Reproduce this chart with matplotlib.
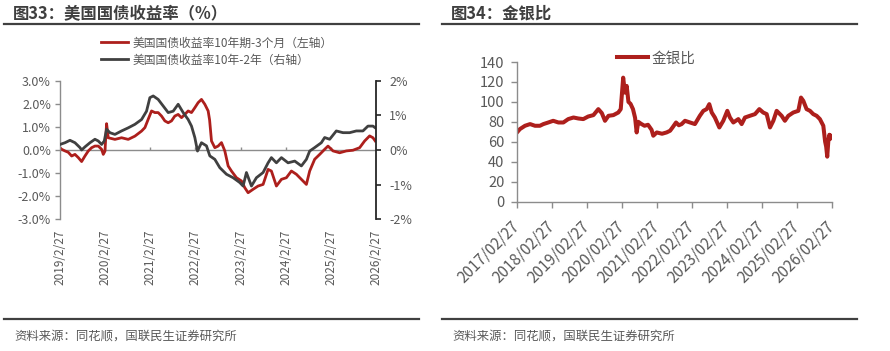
import matplotlib
matplotlib.use('Agg')
import matplotlib.pyplot as plt
from matplotlib.lines import Line2D

plt.rcParams['font.family'] = ['Noto Sans CJK SC', 'DejaVu Sans']

W, H = 890, 351

# ---------------- Left chart data (x in fractional years) ----------------
t_red = [2019.156, 2019.193, 2019.267, 2019.340, 2019.414, 2019.488, 2019.562, 2019.635,
         2019.709, 2019.783, 2019.857, 2019.930, 2020.004, 2020.078, 2020.115, 2020.152,
         2020.188, 2020.225, 2020.373, 2020.520, 2020.668, 2020.815, 2020.963, 2021.037,
         2021.110, 2021.184, 2021.258, 2021.331, 2021.405, 2021.479, 2021.553, 2021.626,
         2021.700, 2021.774, 2021.848, 2021.921, 2021.995, 2022.069, 2022.143, 2022.216,
         2022.290, 2022.364, 2022.438, 2022.470, 2022.512, 2022.586, 2022.659, 2022.733,
         2022.807, 2022.881, 2022.954, 2023.065, 2023.176, 2023.249, 2023.323, 2023.434,
         2023.544, 2023.655, 2023.766, 2023.839, 2023.950, 2024.061, 2024.171, 2024.282,
         2024.392, 2024.503, 2024.614, 2024.687, 2024.798, 2024.909, 2025.019, 2025.093,
         2025.204, 2025.351, 2025.499, 2025.646, 2025.794, 2025.904, 2026.015, 2026.089,
         2026.140]
v_red = [0.10, 0.03, -0.04, -0.10, -0.26, -0.19, -0.33, -0.50,
         -0.26, -0.04, 0.10, 0.17, 0.17, 0.03, -0.19, -0.05,
         1.14, 0.53, 0.46, 0.53, 0.46, 0.60, 0.82, 0.97,
         1.33, 1.69, 1.62, 1.62, 1.47, 1.26, 1.18, 1.26,
         1.47, 1.54, 1.40, 1.54, 1.69, 1.62, 1.83, 2.05,
         2.19, 1.98, 1.69, 1.30, 0.39, 0.10, 0.17, 0.32,
         -0.04, -0.69, -0.91, -1.20, -1.34, -1.63, -1.85, -1.70,
         -1.56, -1.49, -0.84, -0.91, -1.56, -1.27, -1.20, -0.91,
         -1.05, -1.27, -1.49, -0.91, -0.40, -0.19, 0.03, 0.17,
         -0.04, -0.12, -0.04, -0.01, 0.10, 0.39, 0.61, 0.53,
         0.39]

t_gray = [2019.156, 2019.267, 2019.377, 2019.488, 2019.598, 2019.635, 2019.709, 2019.820,
          2019.930, 2020.004, 2020.078, 2020.137, 2020.188, 2020.262, 2020.373, 2020.520,
          2020.668, 2020.815, 2020.963, 2021.073, 2021.147, 2021.221, 2021.331, 2021.442,
          2021.553, 2021.663, 2021.774, 2021.885, 2021.995, 2022.069, 2022.143, 2022.202,
          2022.290, 2022.401, 2022.475, 2022.586, 2022.696, 2022.844, 2022.991, 2023.139,
          2023.212, 2023.286, 2023.397, 2023.507, 2023.655, 2023.766, 2023.839, 2023.950,
          2024.061, 2024.208, 2024.356, 2024.503, 2024.614, 2024.687, 2024.798, 2024.945,
          2025.019, 2025.130, 2025.277, 2025.425, 2025.572, 2025.720, 2025.867, 2025.978,
          2026.089, 2026.140]
v_gray = [0.16, 0.21, 0.28, 0.21, 0.07, 0.00, 0.09, 0.21,
          0.31, 0.26, 0.16, 0.26, 0.60, 0.50, 0.45, 0.55,
          0.64, 0.74, 0.88, 1.12, 1.51, 1.56, 1.46, 1.27,
          1.08, 1.12, 1.32, 1.08, 0.88, 0.69, 0.36, -0.03,
          0.21, 0.12, -0.17, -0.27, -0.51, -0.70, -0.80, -0.94,
          -1.04, -0.65, -1.04, -0.80, -0.65, -0.37, -0.22, -0.37,
          -0.22, -0.37, -0.32, -0.46, -0.27, -0.03, 0.07, 0.21,
          0.36, 0.31, 0.55, 0.50, 0.50, 0.55, 0.55, 0.69,
          0.69, 0.64]

left_years = [2019, 2020, 2021, 2022, 2023, 2024, 2025, 2026]
left_xlabels = ['2019/2/27', '2020/2/27', '2021/2/27', '2022/2/27',
                '2023/2/27', '2024/2/27', '2025/2/27', '2026/2/27']
left_yticks = [-3, -2, -1, 0, 1, 2, 3]
left_ylabels = ['-3.0%', '-2.0%', '-1.0%', '0.0%', '1.0%', '2.0%', '3.0%']
sec_yticks = [-2, -1, 0, 1, 2]
sec_ylabels = ['-2%', '-1%', '0%', '1%', '2%']
name_red = '美国国债收益率10年期-3个月（左轴）'
name_gray = '美国国债收益率10年-2年（右轴）'

# ---------------- Right chart data ----------------
t_gsr = [2017.156, 2017.24, 2017.385, 2017.53, 2017.67, 2017.81, 2017.91, 2018.05,
         2018.19, 2018.34, 2018.48, 2018.62, 2018.77, 2018.91, 2019.05, 2019.19,
         2019.34, 2019.48, 2019.58, 2019.67, 2019.77, 2019.91, 2020.05, 2020.12,
         2020.19, 2020.24, 2020.29, 2020.34, 2020.40, 2020.47, 2020.53, 2020.575,
         2020.62, 2020.70, 2020.80, 2020.90, 2021.00, 2021.05, 2021.15, 2021.30,
         2021.43, 2021.53, 2021.60, 2021.70, 2021.78, 2021.86, 2021.956, 2022.10,
         2022.24, 2022.38, 2022.48, 2022.575, 2022.65, 2022.72, 2022.81, 2022.937,
         2023.05, 2023.165, 2023.24, 2023.337, 2023.48, 2023.575, 2023.67, 2023.81,
         2023.956, 2024.08, 2024.19, 2024.29, 2024.385, 2024.48, 2024.575, 2024.717,
         2024.81, 2024.908, 2025.05, 2025.194, 2025.27, 2025.337, 2025.43, 2025.527,
         2025.62, 2025.717, 2025.81, 2025.908, 2025.96, 2025.99, 2026.02, 2026.05,
         2026.08, 2026.11, 2026.13]
v_gsr = [69.3, 72.7, 76.0, 77.7, 76.0, 76.0, 77.7, 79.3,
         81.0, 79.3, 79.3, 82.7, 84.3, 83.3, 82.7, 85.3,
         86.7, 92.7, 88.7, 81.0, 86.0, 86.7, 89.3, 92.7,
         124.3, 109.3, 116.0, 100.0, 98.0, 92.7, 84.0, 69.3,
         80.0, 78.0, 76.0, 77.0, 72.0, 66.0, 69.3, 68.0,
         69.3, 71.0, 74.3, 79.3, 76.5, 77.7, 81.0, 79.3,
         77.7, 86.0, 91.0, 92.7, 97.7, 89.3, 84.3, 74.3,
         81.0, 91.0, 84.3, 79.3, 82.7, 77.7, 84.3, 86.0,
         87.7, 92.7, 89.3, 87.7, 74.3, 81.0, 91.0, 86.0,
         81.0, 86.0, 89.3, 91.0, 104.3, 101.0, 92.7, 91.0,
         87.7, 86.0, 82.7, 76.0, 60.0, 55.0, 45.0, 60.0,
         67.0, 63.0, 66.0]

right_years = [2017, 2018, 2019, 2020, 2021, 2022, 2023, 2024, 2025, 2026]
right_xlabels = ['2017/02/27', '2018/02/27', '2019/02/27', '2020/02/27', '2021/02/27',
                 '2022/02/27', '2023/02/27', '2024/02/27', '2025/02/27', '2026/02/27']
right_yticks = [0, 20, 40, 60, 80, 100, 120, 140]
name_gsr = '金银比'

RED = '#AD1F1C'
GRAY = '#404040'
TXT = '#595959'
AX_GRAY = '#8C8C8C'
FEB27 = 57 / 365.0


def fx(px):
    return px / W


def fy(py):
    return 1 - py / H


fig = plt.figure(figsize=(W / 100, H / 100), dpi=100)

# ---------------- Left chart ----------------
ax1 = fig.add_axes([fx(60), fy(219.3), (376 - 60) / W, (219.3 - 80.7) / H])
ax1.set_xlim(left_years[0] + FEB27, left_years[-1] + FEB27)
ax1.set_ylim(-3, 3)
l1, = ax1.plot(t_red, v_red, color=RED, lw=2.0, solid_joinstyle='round')
ax1.axhline(0, color=AX_GRAY, lw=1.0, zorder=1)
xt = [y + FEB27 for y in left_years]
ax1.vlines(xt, 0, 0.13, color=AX_GRAY, lw=1.0, zorder=1)
ax1.set_xticks(xt)
ax1.set_xticklabels(left_xlabels, rotation=90, fontsize=8.5, color=TXT, va='top')
ax1.tick_params(axis='x', length=0, pad=7.5)
ax1.set_yticks(left_yticks)
ax1.set_yticklabels(left_ylabels, fontsize=9, color=TXT)
ax1.tick_params(axis='y', direction='out', length=3.5, width=1, color=AX_GRAY, pad=3)
for s in ['top', 'right', 'bottom']:
    ax1.spines[s].set_visible(False)
ax1.spines['left'].set_color(AX_GRAY)
ax1.spines['left'].set_linewidth(1.0)

ax2 = ax1.twinx()
ax2.set_ylim(-2, 2)
l2, = ax2.plot(t_gray, v_gray, color=GRAY, lw=2.0, solid_joinstyle='round')
ax2.set_yticks(sec_yticks)
ax2.set_yticklabels(sec_ylabels, fontsize=9, color=TXT)
ax2.tick_params(axis='y', direction='out', length=3.5, width=1.2, color='#262626', pad=6)
for s in ['top', 'left', 'bottom']:
    ax2.spines[s].set_visible(False)
ax2.spines['right'].set_color('#262626')
ax2.spines['right'].set_linewidth(1.3)

fig.legend([l1, l2], [name_red, name_gray], loc='center left',
           bbox_to_anchor=(fx(101), fy(51.5)), frameon=False, fontsize=8.5,
           handlelength=2.3, handletextpad=0.35, labelspacing=0.35, borderpad=0,
           borderaxespad=0, labelcolor=TXT)

fig.text(fx(13), fy(13.7), '图33：美国国债收益率（%）', fontsize=11.8, fontweight='bold',
         color='#3F3F3F', ha='left', va='center')
fig.add_artist(Line2D([fx(4), fx(419)], [fy(23.7)] * 2, color='#404040', lw=1.6))
fig.add_artist(Line2D([fx(4), fx(419)], [fy(319)] * 2, color='#404040', lw=1.6))
fig.text(fx(14), fy(336.5), '资料来源：同花顺，国联民生证券研究所', fontsize=8.9,
         color=TXT, ha='left', va='center')

# ---------------- Right chart ----------------
ax3 = fig.add_axes([fx(517), fy(201.5), (832 - 517) / W, (201.5 - 62) / H])
ax3.set_xlim(right_years[0] + FEB27, right_years[-1] + FEB27)
ax3.set_ylim(0, 140)
l3, = ax3.plot(t_gsr, v_gsr, color=RED, lw=2.9, solid_joinstyle='round')
xt3 = [y + FEB27 for y in right_years]
ax3.set_xticks(xt3)
ax3.set_xticklabels(right_xlabels, rotation=45, ha='right', va='center',
                    rotation_mode='anchor', fontsize=11, color=TXT)
ax3.set_yticks(right_yticks)
ax3.set_yticklabels([str(v) for v in right_yticks], fontsize=10.5, color=TXT)
ax3.tick_params(axis='both', direction='out', length=4, width=1, color=AX_GRAY)
ax3.tick_params(axis='y', pad=5)
ax3.tick_params(axis='x', pad=12)
for s in ['top', 'right']:
    ax3.spines[s].set_visible(False)
for s in ['left', 'bottom']:
    ax3.spines[s].set_color(AX_GRAY)
    ax3.spines[s].set_linewidth(1.0)

fig.legend([l3], [name_gsr], loc='center left', bbox_to_anchor=(fx(617), fy(58.5)),
           frameon=False, fontsize=10.5, handlelength=2.1, handletextpad=0.25,
           borderpad=0, borderaxespad=0, labelcolor=TXT)

fig.text(fx(451), fy(13.5), '图34：金银比', fontsize=11.8, fontweight='bold',
         color='#3F3F3F', ha='left', va='center')
fig.add_artist(Line2D([fx(442), fx(857)], [fy(23.7)] * 2, color='#404040', lw=1.6))
fig.add_artist(Line2D([fx(442), fx(857)], [fy(319)] * 2, color='#404040', lw=1.6))
fig.text(fx(452), fy(336.5), '资料来源：同花顺，国联民生证券研究所', fontsize=8.9,
         color=TXT, ha='left', va='center')

fig.savefig('out.png', dpi=100)
